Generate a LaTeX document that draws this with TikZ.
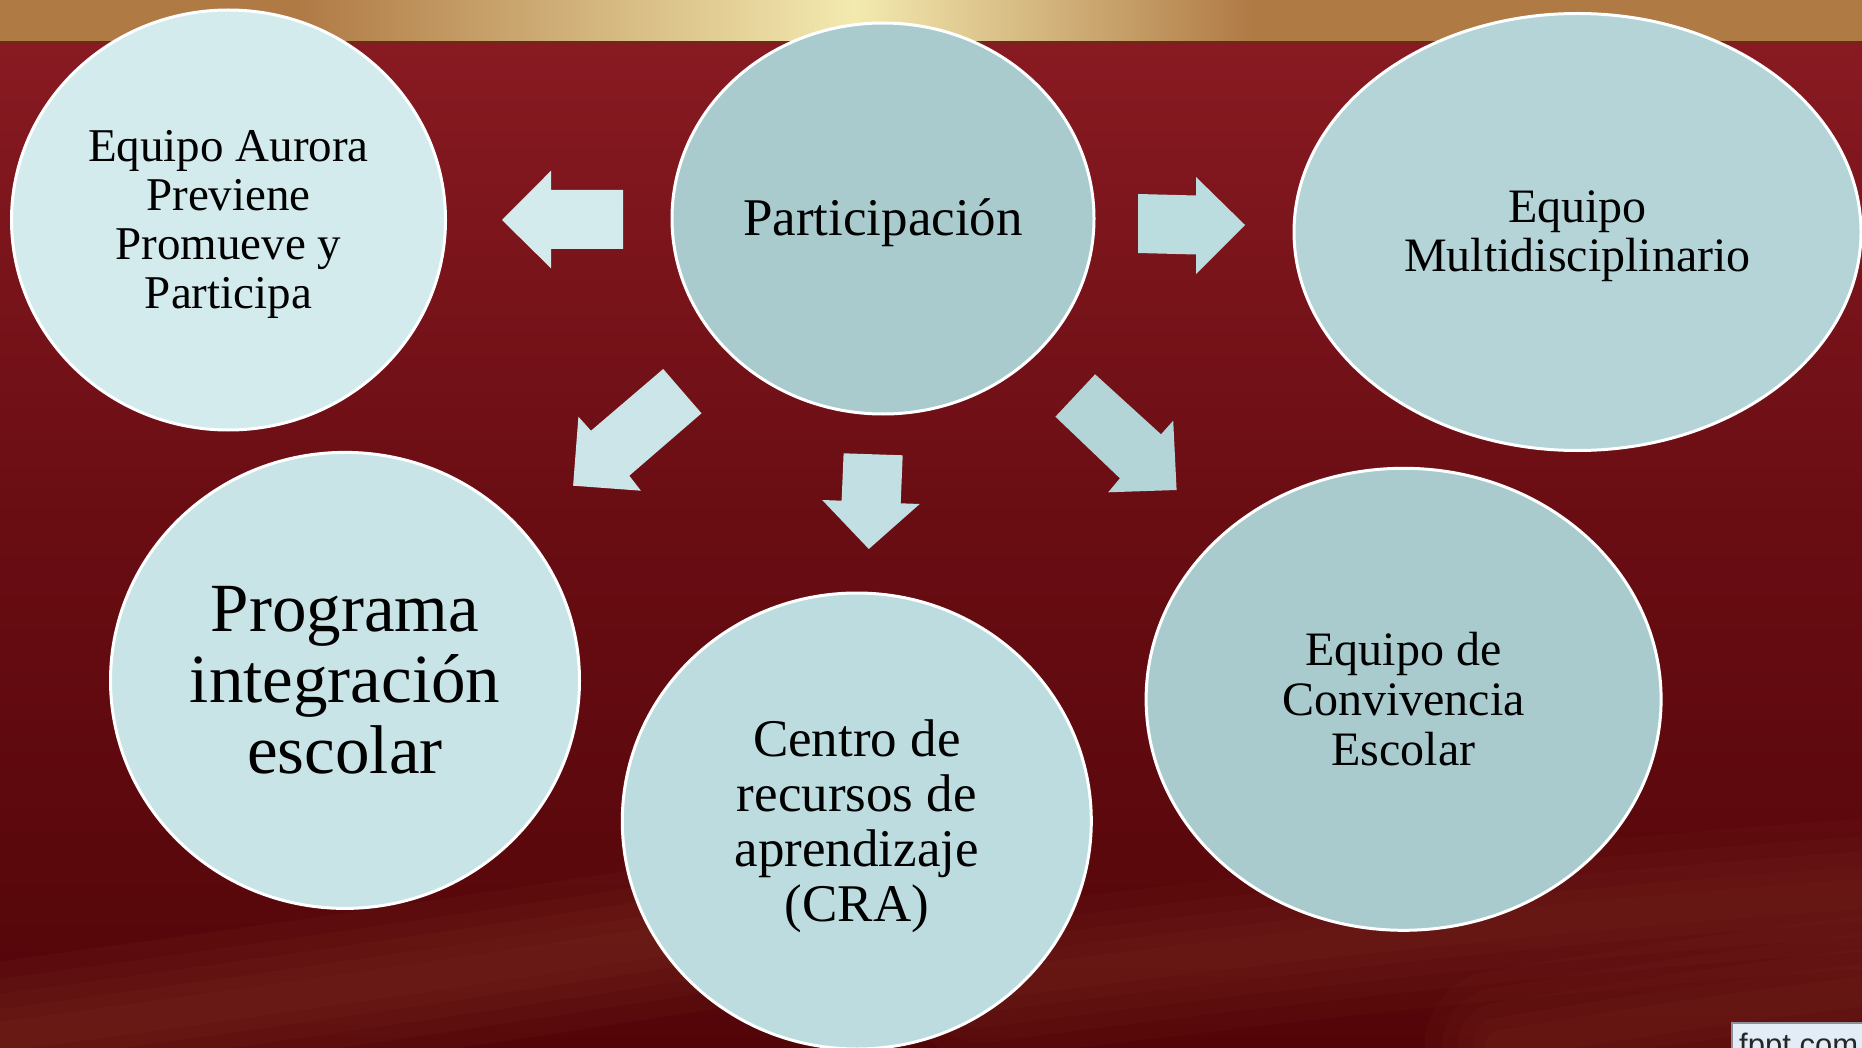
\documentclass[tikz,border=0pt]{standalone}
\usepackage{fontspec}
\setmainfont{Liberation Serif}
\newfontfamily\arialfont{Liberation Sans}
\usetikzlibrary{shapes.geometric}
\definecolor{bgtop}{HTML}{8B1B23}
\definecolor{bgmid}{HTML}{690D13}
\definecolor{bgbot}{HTML}{520508}
\definecolor{streak}{HTML}{8A3A2A}
\definecolor{goldedge}{HTML}{B07A45}
\definecolor{goldlight}{HTML}{F3EAB0}
\definecolor{goldline}{HTML}{6E2A18}
\definecolor{cAurora}{HTML}{D3EBED}
\definecolor{cPart}{HTML}{A9CBCE}
\definecolor{cMulti}{HTML}{B4D4D7}
\definecolor{cProg}{HTML}{C8E4E7}
\definecolor{cCRA}{HTML}{BCDCE0}
\definecolor{cConv}{HTML}{A9CBCE}
\definecolor{aLeft}{HTML}{D3EBED}
\definecolor{aDL}{HTML}{CBE5E8}
\definecolor{aDown}{HTML}{C2E0E3}
\definecolor{aDR}{HTML}{B3D5D8}
\definecolor{aRight}{HTML}{BCDDE0}
\definecolor{boxfill}{HTML}{E3EDF7}
\definecolor{boxline}{HTML}{8E9099}
\begin{document}
\begin{tikzpicture}[x=1pt,y=-1pt,
  bubble/.style={ellipse, draw=white, line width=3pt, inner sep=0pt},
  bubbletext/.style={inner sep=0pt, align=center, text=black},
  blockarrow/.style={draw=none}]
\useasboundingbox (0,0) rectangle (1862,1048);
\clip (0,0) rectangle (1862,1048);
% background
\shade[top color=bgtop, bottom color=bgbot, middle color=bgmid] (0,0) rectangle (1862,1048);
% soft light streaks at the bottom
\foreach \w in {150,115,85,55,30} {
  \draw[line width=\w pt, color=streak, opacity=0.10, line cap=round]
    (-60,1045) .. controls (200,1010) and (450,975) .. (700,935);
  \draw[line width=\w pt, color=streak, opacity=0.08, line cap=round]
    (980,985) .. controls (1250,950) and (1550,915) .. (1920,890);
  \draw[line width=\w pt, color=streak, opacity=0.08, line cap=round]
    (1500,1045) .. controls (1650,1020) and (1780,1000) .. (1920,985);
}
% gold band
\fill[goldedge] (0,0) rectangle (300,42);
\shade[left color=goldedge, right color=goldlight] (299,0) rectangle (856,42);
\shade[left color=goldlight, right color=goldedge] (855,0) rectangle (1251,42);
\fill[goldedge] (1250,0) rectangle (1862,42);
\fill[goldline] (0,41) rectangle (1862,44);
% block arrows
\fill[aLeft, blockarrow] (502,220) -- (551,170.7) -- (551,190) -- (623,190) -- (623,249) -- (551,249) -- (551,268.3) -- cycle;
\fill[aRight, blockarrow] (1138,194) -- (1196,195.5) -- (1196,177) -- (1245,225) -- (1196,274) -- (1196,254.5) -- (1138,253) -- cycle;
\fill[aDL, blockarrow] (663.2,369) -- (701.5,413.3) -- (629.3,475.7) -- (640.9,490.7) -- (573.1,485.7) -- (578.4,416.7) -- (591.0,430.7) -- cycle;
\fill[aDown, blockarrow] (843.6,453.3) -- (902.7,455.3) -- (900.7,503.3) -- (919.7,504) -- (868.8,549) -- (822.2,500) -- (841.6,500.7) -- cycle;
\fill[aDR, blockarrow] (1095.1,374.3) -- (1055.4,416.7) -- (1119.9,478.3) -- (1108.2,492.3) -- (1176.6,490) -- (1173.2,420.7) -- (1161.0,434.3) -- cycle;
% bubbles
\node[bubble, fill=cAurora, minimum width=434pt, minimum height=420pt] (aurora) at (228.5,220) {};
\node[bubble, fill=cPart, minimum width=422pt, minimum height=391pt] (part) at (883,218.5) {};
\node[bubble, fill=cMulti, minimum width=567pt, minimum height=437pt] (multi) at (1577.5,232) {};
\node[bubble, fill=cProg, minimum width=469pt, minimum height=456pt] (prog) at (345,680.4) {};
\node[bubble, fill=cCRA, minimum width=469pt, minimum height=456pt] (cra) at (856.8,821) {};
\node[bubble, fill=cConv, minimum width=515pt, minimum height=462pt] (conv) at (1403.6,699.3) {};
% bubble texts
\node[bubbletext, font=\fontsize{47}{49}\selectfont] (auroraT) at ([yshift=-4pt]aurora.center)
  {Equipo Aurora\\Previene\\Promueve y\\Participa};
\node[bubbletext, font=\fontsize{53}{55}\selectfont] (partT) at ([yshift=-4pt]part.center) {Participación};
\node[bubbletext, font=\fontsize{48}{49}\selectfont] (multiT) at ([yshift=-4pt]multi.center)
  {Equipo\\Multidisciplinario};
\node[bubbletext, font=\fontsize{69}{71}\selectfont] (progT) at (prog.center)
  {Programa\\integración\\escolar};
\node[bubbletext, font=\fontsize{53}{55}\selectfont] (craT) at ([yshift=-5pt]cra.center)
  {Centro de\\recursos de\\aprendizaje\\(CRA)};
\node[bubbletext, font=\fontsize{48}{50}\selectfont] (convT) at (conv.center)
  {Equipo de\\Convivencia\\Escolar};
% fppt box
\draw[fill=boxfill, draw=boxline, line width=2pt] (1731.5,1023) rectangle (1880,1070);
\node[anchor=base west, inner sep=0pt, font=\arialfont\fontsize{31}{31}\selectfont, text=black!85] (fppt) at (1739,1055.5) {fppt.com};
\end{tikzpicture}
\end{document}
